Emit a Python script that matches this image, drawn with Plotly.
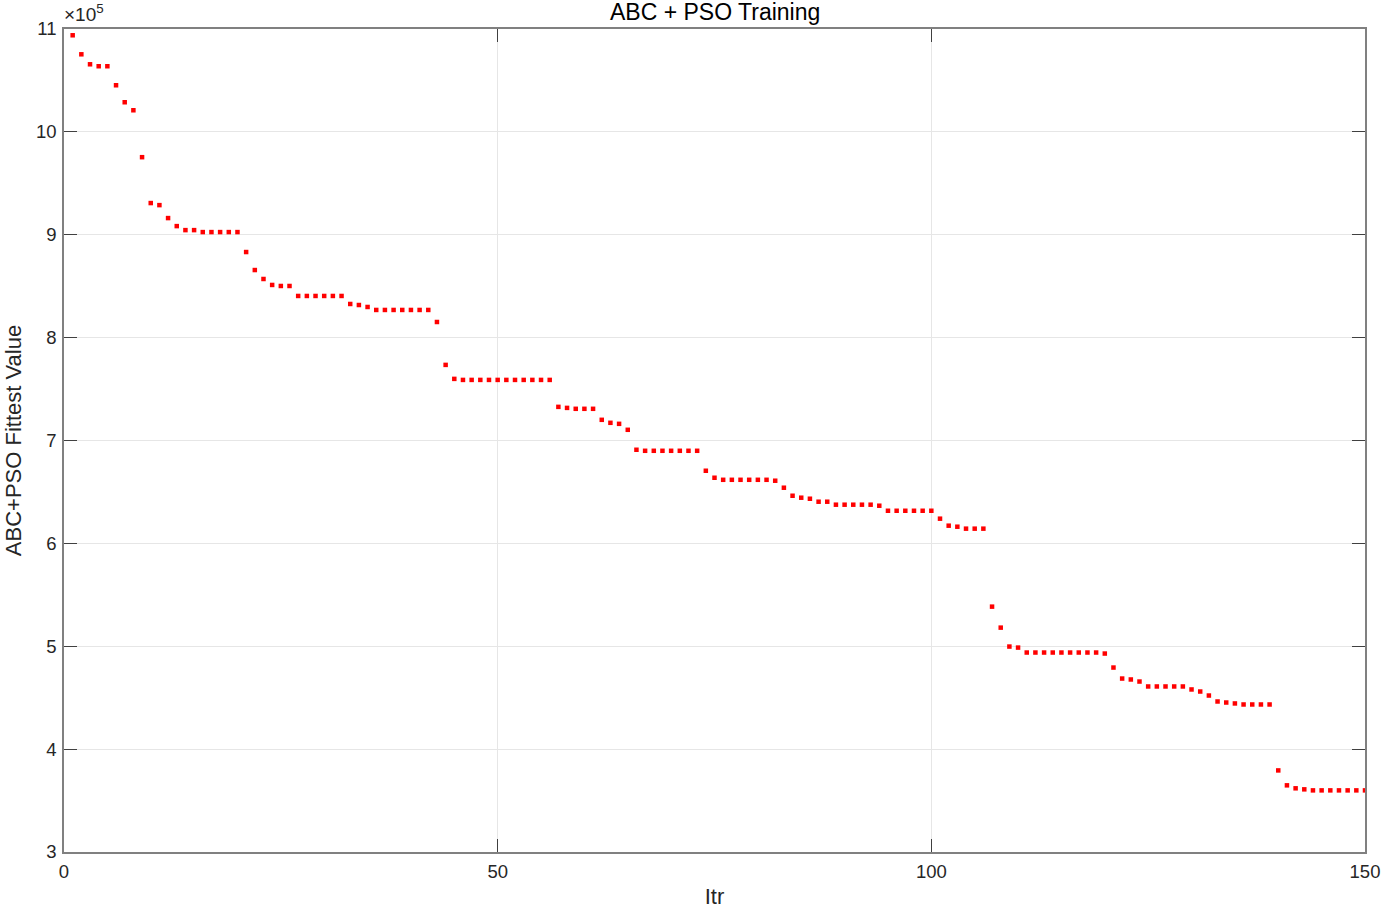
import plotly.graph_objects as go

# Fittest value per iteration, in units of 1e5
iterations = list(range(1, 151))
fitness_e5 = (
    [10.939, 10.754, 10.657, 10.638, 10.638, 10.453, 10.288, 10.21, 9.754, 9.308,
     9.288, 9.162, 9.084, 9.045, 9.045]
    + [9.026] * 5
    + [8.832, 8.657, 8.570, 8.512, 8.502, 8.502]
    + [8.405] * 6
    + [8.327, 8.317, 8.298]
    + [8.269] * 7
    + [8.152, 7.735, 7.599]
    + [7.589] * 11
    + [7.327, 7.317, 7.308, 7.308, 7.308, 7.201, 7.172, 7.162, 7.104, 6.910]
    + [6.900] * 7
    + [6.706, 6.638]
    + [6.618] * 6
    + [6.609, 6.541, 6.463, 6.444, 6.434, 6.405, 6.405]
    + [6.376] * 5
    + [6.366]
    + [6.317] * 6
    + [6.240, 6.172, 6.162, 6.143, 6.143, 6.143, 5.385, 5.181, 4.997, 4.987]
    + [4.939] * 9
    + [4.929, 4.793, 4.686, 4.677, 4.657]
    + [4.609] * 5
    + [4.580, 4.560, 4.521, 4.463, 4.453, 4.444]
    + [4.434] * 4
    + [3.793, 3.648, 3.619, 3.609]
    + [3.599] * 7
)

x_ticks = [0, 50, 100, 150]
y_ticks = [3, 4, 5, 6, 7, 8, 9, 10, 11]

FONT = "Liberation Sans, Arial, sans-serif"
AX = "#808080"

fig = go.Figure(
    go.Scatter(
        x=iterations,
        y=fitness_e5,
        mode="markers",
        marker=dict(symbol="square", size=4.5, color="#ff0000", line=dict(width=0)),
        showlegend=False,
    )
)

axis_common = dict(
    showline=True,
    linecolor=AX,
    linewidth=1.5,
    mirror="ticks",
    ticks="inside",
    ticklen=13,
    tickwidth=1,
    tickcolor="#404040",
    showgrid=True,
    gridcolor="#e6e6e6",
    gridwidth=1,
    zeroline=False,
    automargin=False,
    tickfont=dict(family=FONT, size=18.5, color="#262626"),
)

fig.update_xaxes(
    range=[0, 150],
    tickvals=x_ticks,
    ticklabelstandoff=2,
    title=dict(text="Itr", font=dict(family=FONT, size=22, color="#262626"), standoff=12),
    **axis_common,
)
fig.update_yaxes(
    range=[3, 11],
    tickvals=y_ticks,
    ticklabelstandoff=2,
    title=dict(text="ABC+PSO Fittest Value", font=dict(family=FONT, size=22, color="#262626"), standoff=8),
    **axis_common,
)

fig.update_layout(
    width=1384,
    height=909,
    margin=dict(l=64, r=19, t=29, b=57),
    plot_bgcolor="white",
    paper_bgcolor="white",
    annotations=[
        dict(
            text="ABC + PSO Training",
            xref="paper",
            yref="paper",
            x=0.5,
            y=1,
            xanchor="center",
            yanchor="bottom",
            showarrow=False,
            yshift=2,
            font=dict(family=FONT, size=23, color="#000000"),
        ),
        dict(
            text="×10<sup>5</sup>",
            xref="paper",
            yref="paper",
            x=0,
            y=1,
            xanchor="left",
            yanchor="bottom",
            showarrow=False,
            xshift=-2,
            yshift=2,
            font=dict(family=FONT, size=19, color="#262626"),
        ),
    ],
)

fig.write_html(
    "out.html",
    config={"displayModeBar": False},
    post_script="document.body.style.margin='0';document.body.style.overflow='hidden';",
)
